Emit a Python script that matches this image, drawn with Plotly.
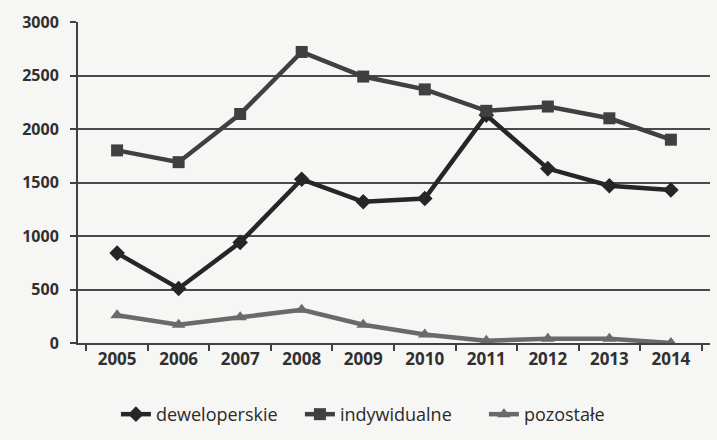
import plotly.graph_objects as go

# Liczba mieszkań według formy budownictwa, 2005-2014
years = ["2005", "2006", "2007", "2008", "2009", "2010", "2011", "2012", "2013", "2014"]
deweloperskie = [840, 510, 940, 1530, 1320, 1350, 2130, 1630, 1470, 1430]
indywidualne = [1800, 1690, 2140, 2720, 2490, 2370, 2170, 2210, 2100, 1900]
pozostale = [260, 170, 240, 310, 170, 80, 20, 40, 40, 0]

y_ticks = [0, 500, 1000, 1500, 2000, 2500, 3000]

bg = "#f6f6f4"
font_family = "Open Sans, Liberation Sans, sans-serif"

fig = go.Figure()
fig.add_trace(go.Scatter(
    x=years, y=deweloperskie, name="deweloperskie", mode="lines+markers",
    line=dict(color="#262626", width=4.5),
    marker=dict(symbol="diamond", size=12, color="#262626"),
))
fig.add_trace(go.Scatter(
    x=years, y=indywidualne, name="indywidualne", mode="lines+markers",
    line=dict(color="#404040", width=4.5),
    marker=dict(symbol="square", size=12, color="#404040"),
))
fig.add_trace(go.Scatter(
    x=years, y=pozostale, name="pozostałe", mode="lines+markers",
    line=dict(color="#6a6a6a", width=4.5),
    marker=dict(symbol="triangle-up", size=12, color="#6a6a6a"),
))

fig.update_layout(
    width=717, height=440,
    margin=dict(l=78, r=7, t=22, b=97, autoexpand=False),
    paper_bgcolor=bg, plot_bgcolor=bg,
    font=dict(family=font_family, color="#303030"),
    showlegend=True,
    legend=dict(
        orientation="h", x=0.06, xanchor="left", y=-0.165, yanchor="top",
        font=dict(size=18, color="#2a2a2a"), bgcolor="rgba(0,0,0,0)",
        traceorder="normal", entrywidth=139,
    ),
    xaxis=dict(
        type="category", showline=True, linecolor="#404040", linewidth=2,
        ticks="outside", ticklen=6, tickcolor="#404040", tickwidth=2,
        tickson="boundaries", showgrid=False, automargin=False,
        tickfont=dict(size=17, color="#303030", family=font_family, weight="bold"),
    ),
    yaxis=dict(
        range=[0, 3000], tickvals=y_ticks, showline=True, linecolor="#404040", linewidth=2,
        ticks="outside", ticklen=6, tickcolor="#404040", tickwidth=2,
        ticklabelstandoff=8, automargin=False,
        showgrid=True, gridcolor="#4a4a4a", gridwidth=2, zeroline=False,
        tickfont=dict(size=16, color="#303030", family=font_family, weight="bold"),
    ),
)

fig.write_html("out.html")
